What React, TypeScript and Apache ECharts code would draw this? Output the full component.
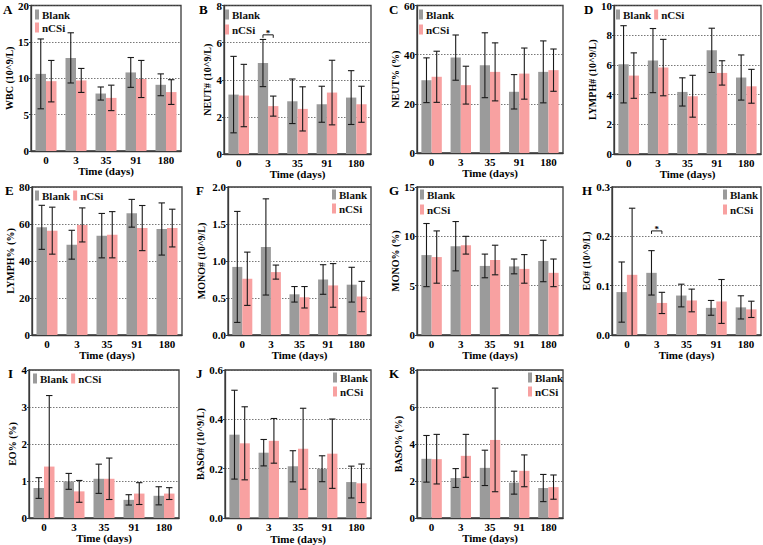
import React, { useEffect, useRef } from 'react';
import * as echarts from 'echarts';

const categories = ['0', '3', '35', '91', '180'];
const seriesNames = ['Blank', 'nCSi'];
const panelLetters = ['A', 'B', 'C', 'D', 'E', 'F', 'G', 'H', 'I', 'J', 'K'];
const yNames = [
  'WBC (10^9/L)', 'NEUT# (10^9/L)', 'NEUT% (%)', 'LYMPH# (10^9/L)',
  'LYMPH% (%)', 'MONO# (10^9/L)', 'MONO% (%)', 'EO# (10^9/L)',
  'EO% (%)', 'BASO# (10^9/L)', 'BASO% (%)',
];
const yMax = [20, 8, 60, 10, 80, 2, 15, 0.3, 4, 0.6, 8];
const yInterval = [5, 2, 20, 2, 20, 0.5, 5, 0.1, 1, 0.2, 2];
const yDecimals = [0, 0, 0, 0, 0, 1, 0, 1, 0, 1, 0];

// means and SD (error half-lengths)
const wbcBlank = [10.6, 12.8, 7.9, 10.8, 9.1];
const wbcBlankSd = [4.8, 3.45, 0.9, 2.05, 1.5];
const wbcNCSi = [9.6, 9.7, 7.3, 9.9, 8.1];
const wbcNCSiSd = [2.85, 1.65, 1.75, 2.55, 1.7];

const neutNBlank = [3.2, 4.9, 2.84, 2.68, 3.04];
const neutNBlankSd = [2.06, 1.27, 1.2, 0.97, 1.45];
const neutNNCSi = [3.15, 2.58, 2.43, 3.31, 2.68];
const neutNNCSiSd = [1.68, 0.54, 1.19, 1.74, 0.97];

const neutPBlank = [29.6, 38.8, 35.7, 24.9, 33.0];
const neutPBlankSd = [9.1, 9.2, 13.2, 7.0, 12.6];
const neutPNCSi = [31.0, 27.6, 33.0, 32.3, 33.7];
const neutPNCSiSd = [10.4, 7.7, 11.8, 10.4, 8.6];

const lymphNBlank = [6.04, 6.29, 4.18, 6.98, 5.15];
const lymphNBlankSd = [2.6, 2.16, 0.95, 1.49, 1.52];
const lymphNNCSi = [5.28, 5.82, 3.89, 5.46, 4.56];
const lymphNNCSiSd = [1.53, 1.9, 1.41, 0.82, 1.14];

const lymphPBlank = [58.2, 48.8, 53.7, 65.8, 57.3];
const lymphPBlankSd = [11.9, 7.8, 12.0, 7.5, 14.1];
const lymphPNCSi = [56.4, 59.5, 54.2, 57.8, 57.8];
const lymphPNCSiSd = [12.7, 9.2, 12.5, 12.2, 10.2];

const monoNBlank = [0.92, 1.19, 0.55, 0.75, 0.68];
const monoNBlankSd = [0.75, 0.65, 0.105, 0.2, 0.235];
const monoNNCSi = [0.76, 0.85, 0.51, 0.67, 0.52];
const monoNNCSiSd = [0.36, 0.095, 0.145, 0.295, 0.205];

const monoPBlank = [8.1, 9.0, 7.0, 6.95, 7.5];
const monoPBlankSd = [3.2, 2.5, 1.2, 0.75, 2.1];
const monoPNCSi = [7.9, 9.1, 7.6, 6.7, 6.3];
const monoPNCSiSd = [2.65, 0.9, 1.5, 1.45, 1.4];

const eoNBlank = [0.087, 0.126, 0.08, 0.055, 0.056];
const eoNBlankSd = [0.061, 0.045, 0.023, 0.015, 0.0235];
const eoNNCSi = [0.122, 0.065, 0.07, 0.068, 0.052];
const eoNNCSiSd = [0.135, 0.0215, 0.023, 0.0445, 0.0165];

const eoPBlank = [0.81, 0.99, 1.06, 0.49, 0.6];
const eoPBlankSd = [0.28, 0.215, 0.395, 0.14, 0.245];
const eoPNCSi = [1.39, 0.72, 1.06, 0.66, 0.66];
const eoPNCSiSd = [1.92, 0.295, 0.56, 0.295, 0.16];

const basoNBlank = [0.338, 0.265, 0.21, 0.2, 0.146];
const basoNBlankSd = [0.18, 0.0535, 0.063, 0.0525, 0.0645];
const basoNNCSi = [0.303, 0.313, 0.281, 0.261, 0.141];
const basoNNCSiSd = [0.148, 0.0905, 0.164, 0.1405, 0.078];

const basoPBlank = [3.2, 2.16, 2.71, 1.91, 1.62];
const basoPBlankSd = [1.26, 0.51, 0.955, 0.62, 0.735];
const basoPNCSi = [3.18, 3.36, 4.22, 2.55, 1.67];
const basoPNCSiSd = [1.34, 1.16, 2.8, 0.86, 0.655];

// significance brackets: panel index, category index, y value
const sigPanels = [1, 7];
const sigCategory = [1, 1];
const sigY = [6.42, 0.211];

const panelData = [
  [wbcBlank, wbcBlankSd, wbcNCSi, wbcNCSiSd],
  [neutNBlank, neutNBlankSd, neutNNCSi, neutNNCSiSd],
  [neutPBlank, neutPBlankSd, neutPNCSi, neutPNCSiSd],
  [lymphNBlank, lymphNBlankSd, lymphNNCSi, lymphNNCSiSd],
  [lymphPBlank, lymphPBlankSd, lymphPNCSi, lymphPNCSiSd],
  [monoNBlank, monoNBlankSd, monoNNCSi, monoNNCSiSd],
  [monoPBlank, monoPBlankSd, monoPNCSi, monoPNCSiSd],
  [eoNBlank, eoNBlankSd, eoNNCSi, eoNNCSiSd],
  [eoPBlank, eoPBlankSd, eoPNCSi, eoPNCSiSd],
  [basoNBlank, basoNBlankSd, basoNNCSi, basoNNCSiSd],
  [basoPBlank, basoPBlankSd, basoPNCSi, basoPNCSiSd],
];

// layout: [left, top, width, height, nameGap]
const layout = [
  [31, 5, 150, 146, 15],
  [224, 5, 147, 149, 12],
  [417, 5, 146, 148, 16],
  [614, 5, 147, 149, 13],
  [32, 187, 150, 148, 15],
  [228, 187, 143, 148, 22],
  [417, 187, 146, 148, 17],
  [612, 187, 149, 148, 21],
  [29, 370, 150, 148, 9],
  [225, 370, 146, 149, 20],
  [417, 370, 146, 148, 14],
];
// legend: [left, top, orient(0 vertical,1 horizontal), itemGap]
const legendLayout = [
  [35, 9, 0, 2],
  [225, 9, 0, 4],
  [419, 9, 0, 4],
  [616, 9, 1, 3],
  [35, 190, 1, 3],
  [332, 189, 0, 3],
  [420, 189, 0, 4],
  [723, 189, 0, 4],
  [33, 373, 1, 3],
  [333, 372, 0, 3],
  [528, 372, 0, 3],
];
const letterPos = [
  [3, 3], [199, 3], [389, 3], [584, 3],
  [5, 184], [196, 184], [389, 184], [582, 184],
  [8, 367], [196, 367], [389, 367],
];

const FONT = '"Liberation Serif", "Times New Roman", serif';
const GRAY = '#9b9b9b';
const PINK = '#f8a1a1';
const BAR_FRAC = 0.35;

export default function App() {
  const ref = useRef<HTMLDivElement>(null);
  useEffect(() => {
    if (!ref.current) return;
    const chart = echarts.init(ref.current, undefined, { renderer: 'svg' });
    const grids: any[] = [];
    const xAxes: any[] = [];
    const yAxes: any[] = [];
    const series: any[] = [];
    const legends: any[] = [];
    const graphics: any[] = [];

    panelData.forEach((pd, i) => {
      const [l, t, w, h, ng] = layout[i];
      grids.push({
        left: l, top: t, width: w, height: h, show: true,
        borderColor: '#3a3a3a', borderWidth: 1.3, backgroundColor: 'transparent',
      });
      xAxes.push({
        type: 'category', gridIndex: i, data: categories,
        axisLine: { show: true, lineStyle: { color: '#3a3a3a', width: 1.3 } },
        axisTick: { show: false },
        axisLabel: { fontFamily: FONT, fontWeight: 'bold', fontSize: 11, color: '#000', margin: 3 },
        name: 'Time (days)', nameLocation: 'middle', nameGap: 12,
        nameTextStyle: { fontFamily: FONT, fontWeight: 'bold', fontSize: 11, color: '#000' },
      });
      const dec = yDecimals[i];
      yAxes.push({
        type: 'value', gridIndex: i, min: 0, max: yMax[i], interval: yInterval[i],
        axisLine: { show: true, lineStyle: { color: '#3a3a3a', width: 1.3 } },
        axisTick: { show: true, length: 2, lineStyle: { color: '#3a3a3a' } },
        axisLabel: {
          fontFamily: FONT, fontWeight: 'bold', fontSize: 11, color: '#000', margin: 2,
          formatter: (v: number) => v.toFixed(dec),
        },
        splitLine: { show: true, lineStyle: { type: [1.5, 1.5], color: '#555', width: 0.8 } },
        name: yNames[i], nameLocation: 'middle', nameGap: ng,
        nameTextStyle: { fontFamily: FONT, fontWeight: 'bold', fontSize: 10, color: '#000' },
      });
      const [bm, bs, nm, ns] = pd;
      series.push({
        type: 'bar', name: seriesNames[0], xAxisIndex: i, yAxisIndex: i,
        data: bm, barWidth: BAR_FRAC * 100 + '%', barGap: '0%',
        itemStyle: { color: GRAY },
      });
      series.push({
        type: 'bar', name: seriesNames[1], xAxisIndex: i, yAxisIndex: i,
        data: nm, barWidth: BAR_FRAC * 100 + '%', barGap: '0%',
        itemStyle: { color: PINK },
      });
      const errData: number[][] = [];
      bm.forEach((v, k) => errData.push([k, v, bs[k], 0]));
      nm.forEach((v, k) => errData.push([k, v, ns[k], 1]));
      series.push({
        type: 'custom', xAxisIndex: i, yAxisIndex: i, z: 5, silent: true,
        data: errData,
        renderItem: (params: any, api: any) => {
          const ci = api.value(0);
          const v = api.value(1);
          const e = api.value(2);
          const s = api.value(3);
          const bw = api.size([1, 0])[0] * BAR_FRAC;
          const c = api.coord([ci, v]);
          const x = c[0] + (s === 0 ? -bw / 2 : bw / 2);
          const yHi = api.coord([ci, v + e])[1];
          const lo = v - e;
          const yLo = api.coord([ci, Math.max(0, lo)])[1];
          const cap = 3.2;
          const st = { stroke: '#1a1a1a', lineWidth: 1.1 };
          const children: any[] = [
            { type: 'line', shape: { x1: x, y1: yHi, x2: x, y2: yLo }, style: st },
            { type: 'line', shape: { x1: x - cap, y1: yHi, x2: x + cap, y2: yHi }, style: st },
          ];
          if (lo > 0) children.push({ type: 'line', shape: { x1: x - cap, y1: yLo, x2: x + cap, y2: yLo }, style: st });
          return { type: 'group', children };
        },
      });
      const [ll, lt, lo, lg] = legendLayout[i];
      legends.push({
        left: ll, top: lt, orient: lo === 0 ? 'vertical' : 'horizontal',
        itemGap: lg, itemWidth: 4, itemHeight: 10, padding: 0, icon: 'rect',
        data: seriesNames,
        textStyle: { fontFamily: FONT, fontWeight: 'bold', fontSize: 11, color: '#111', padding: [0, 0, 0, -2] },
      });
      graphics.push({
        type: 'text', left: letterPos[i][0], top: letterPos[i][1],
        style: { text: panelLetters[i], font: 'bold 13px ' + FONT, fill: '#000' },
      });
    });

    sigPanels.forEach((p, j) => {
      series.push({
        type: 'custom', xAxisIndex: p, yAxisIndex: p, z: 6, silent: true,
        data: [[sigCategory[j], sigY[j]]],
        renderItem: (params: any, api: any) => {
          const bw = api.size([1, 0])[0] * BAR_FRAC;
          const c = api.coord([api.value(0), api.value(1)]);
          const x1 = c[0] - bw / 2;
          const x2 = c[0] + bw / 2;
          const y = c[1];
          return {
            type: 'group',
            children: [
              {
                type: 'polyline',
                shape: { points: [[x1, y + 3], [x1, y], [x2, y], [x2, y + 3]] },
                style: { stroke: '#1a1a1a', lineWidth: 1, fill: 'none' },
              },
              {
                type: 'text', x: c[0], y: y + 3,
                style: { text: '*', font: 'bold 9px ' + FONT, fill: '#000', align: 'center', verticalAlign: 'bottom' },
              },
            ],
          };
        },
      });
    });

    chart.setOption({
      animation: false,
      backgroundColor: '#fff',
      grid: grids,
      xAxis: xAxes,
      yAxis: yAxes,
      legend: legends,
      series,
      graphic: graphics,
    });
    return () => chart.dispose();
  }, []);
  return <div ref={ref} style={{ position: 'fixed', left: 0, top: 0, width: 763, height: 545 }} />;
}
